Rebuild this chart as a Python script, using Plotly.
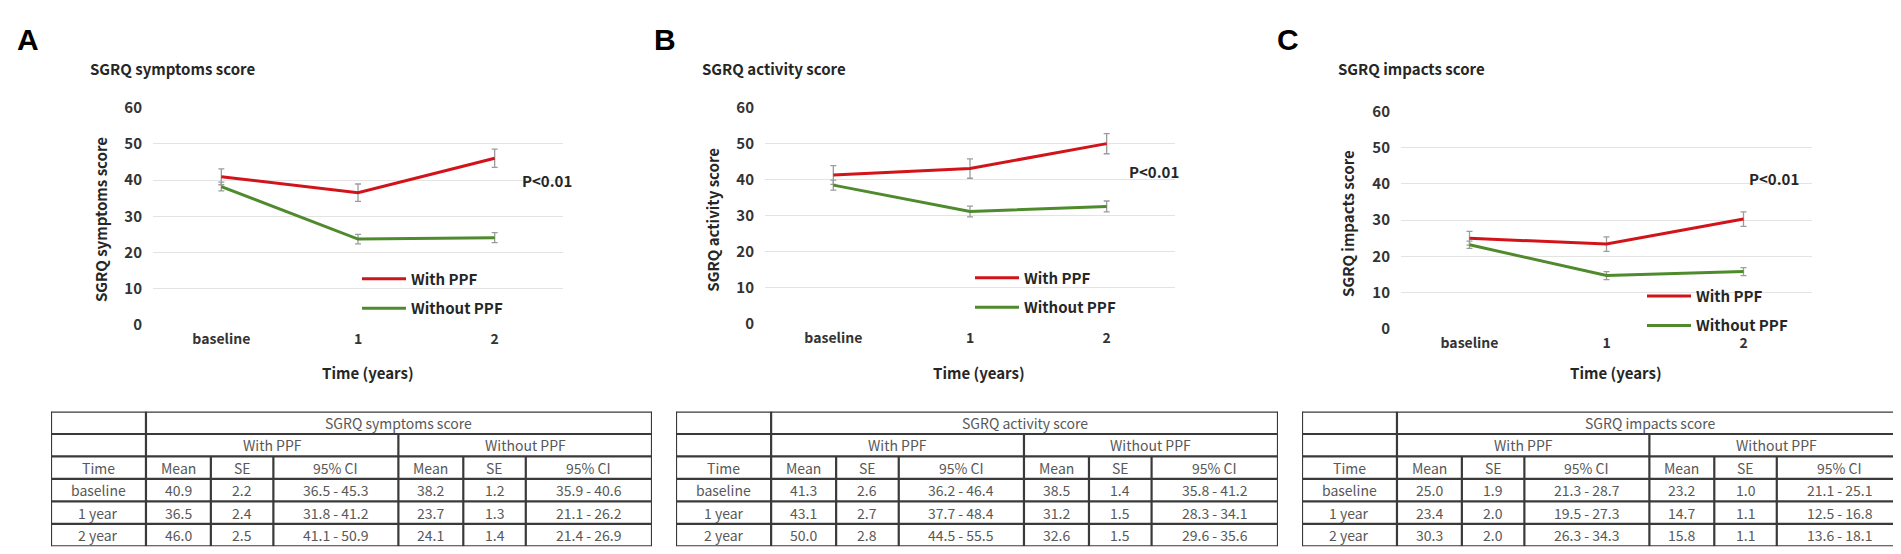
import plotly.graph_objects as go

W, H = 1901, 554
FONT = "Noto Sans CJK JP"
RED = "#D2141A"
GREEN = "#4F8A2D"

# --- data -------------------------------------------------------------
time_points = ["baseline", "1", "2"]
table_times = ["baseline", "1 year", "2 year"]
panel_letters = ["A", "B", "C"]
score_names = ["SGRQ symptoms score", "SGRQ activity score", "SGRQ impacts score"]
group_names = ["With PPF", "Without PPF"]
col_headers = ["Time", "Mean", "SE", "95% CI", "Mean", "SE", "95% CI"]

symptoms_with_mean = [40.9, 36.5, 46.0]
symptoms_with_se = [2.2, 2.4, 2.5]
symptoms_with_ci = ["36.5 - 45.3", "31.8 - 41.2", "41.1 - 50.9"]
symptoms_without_mean = [38.2, 23.7, 24.1]
symptoms_without_se = [1.2, 1.3, 1.4]
symptoms_without_ci = ["35.9 - 40.6", "21.1 - 26.2", "21.4 - 26.9"]

activity_with_mean = [41.3, 43.1, 50.0]
activity_with_se = [2.6, 2.7, 2.8]
activity_with_ci = ["36.2 - 46.4", "37.7 - 48.4", "44.5 - 55.5"]
activity_without_mean = [38.5, 31.2, 32.6]
activity_without_se = [1.4, 1.5, 1.5]
activity_without_ci = ["35.8 - 41.2", "28.3 - 34.1", "29.6 - 35.6"]

impacts_with_mean = [25.0, 23.4, 30.3]
impacts_with_se = [1.9, 2.0, 2.0]
impacts_with_ci = ["21.3 - 28.7", "19.5 - 27.3", "26.3 - 34.3"]
impacts_without_mean = [23.2, 14.7, 15.8]
impacts_without_se = [1.0, 1.1, 1.1]
impacts_without_ci = ["21.1 - 25.1", "12.5 - 16.8", "13.6 - 18.1"]

p_labels = ["P<0.01", "P<0.01", "P<0.01"]

panels = [
    (symptoms_with_mean, symptoms_with_se, symptoms_with_ci,
     symptoms_without_mean, symptoms_without_se, symptoms_without_ci),
    (activity_with_mean, activity_with_se, activity_with_ci,
     activity_without_mean, activity_without_se, activity_without_ci),
    (impacts_with_mean, impacts_with_se, impacts_with_ci,
     impacts_without_mean, impacts_without_se, impacts_without_ci),
]

# --- layout (pixel positions in the 1901x554 page) -----------------------
plot_x = [(145, 555), (757, 1167), (1393, 1804)]
plot_y = [(91, 317), (91, 316), (95, 321)]
table_x = [(43, 644), (668, 1270), (1294, 1895)]
table_y = (407, 547)
letter_x = [7, 644, 1267]
title_x = [80, 692, 1328]
ytitle_x = [92, 705, 1340]
xtitle_x = [360, 971, 1608]
pval_xy = [(539, 167), (1146, 157), (1766, 165)]
legend_xy = [(354, 265), (967, 264), (1639, 283)]
col_edges = [0, 0.158, 0.266, 0.370, 0.578, 0.686, 0.790, 1.0]


def px(x):
    return x / W


def py(y):
    return 1 - y / H


fig = go.Figure()
annotations = []
shapes = []
layout_extra = {}

for i in range(3):
    n = "" if i == 0 else str(i + 1)
    with_mean, with_se, with_ci, wo_mean, wo_se, wo_ci = panels[i]
    leg = "legend" if i == 0 else f"legend{i + 1}"

    for name, mean, se, color in [
        (group_names[0], with_mean, with_se, RED),
        (group_names[1], wo_mean, wo_se, GREEN),
    ]:
        fig.add_trace(
            go.Scatter(
                x=time_points,
                y=mean,
                mode="lines",
                name=name,
                line=dict(color=color, width=3),
                error_y=dict(type="data", array=se, color="#9C9C9C",
                             thickness=1.3, width=3),
                xaxis=f"x{n}",
                yaxis=f"y{n}",
                legend=leg,
                legendgroup=f"{i}-{name}",
                hoverinfo="skip",
            )
        )

    x0, x1 = plot_x[i]
    y0, y1 = plot_y[i]
    layout_extra[f"xaxis{n}"] = dict(
        domain=[px(x0), px(x1)],
        anchor=f"y{n}",
        type="category",
        range=[-0.5, 2.5],
        showgrid=False,
        showline=False,
        zeroline=False,
        tickfont=dict(family=FONT, size=14, color="#333333", weight="bold"),
        ticklabelstandoff=4,
        fixedrange=True,
    )
    layout_extra[f"yaxis{n}"] = dict(
        domain=[py(y1), py(y0)],
        anchor=f"x{n}",
        range=[0, 60],
        dtick=10,
        showgrid=True,
        gridcolor="#E3E3E3",
        gridwidth=1,
        zeroline=False,
        showline=False,
        tickfont=dict(family=FONT, size=15, color="#333333", weight="bold"),
        ticklabelstandoff=10,
        fixedrange=True,
    )

    lx, ly = legend_xy[i]
    layout_extra[leg] = dict(
        x=px(lx - 5),
        y=py(ly - 13),
        xanchor="left",
        yanchor="top",
        bgcolor="rgba(0,0,0,0)",
        borderwidth=0,
        itemwidth=44,
        traceorder="grouped",
        tracegroupgap=7,
        font=dict(family=FONT, size=15, color="#262626", weight="bold"),
    )

    # panel letter, chart title, axis titles, p value
    annotations.append(dict(
        text=panel_letters[i], x=px(letter_x[i]), y=py(20), xref="paper", yref="paper",
        xanchor="left", yanchor="middle", showarrow=False,
        font=dict(family="Liberation Sans", size=30, color="#000000", weight="bold"),
    ))
    annotations.append(dict(
        text=score_names[i], x=px(title_x[i]), y=py(50), xref="paper", yref="paper",
        xanchor="left", yanchor="middle", showarrow=False,
        font=dict(family=FONT, size=15, color="#262626", weight="bold"),
    ))
    annotations.append(dict(
        text=score_names[i], x=px(ytitle_x[i]), y=py((y0 + y1) / 2 + 4), xref="paper",
        yref="paper", xanchor="center", yanchor="middle", textangle=-90, showarrow=False,
        font=dict(family=FONT, size=15, color="#262626", weight="bold"),
    ))
    annotations.append(dict(
        text="Time (years)", x=px(xtitle_x[i]), y=py(366), xref="paper", yref="paper",
        xanchor="center", yanchor="middle", showarrow=False,
        font=dict(family=FONT, size=15, color="#262626", weight="bold"),
    ))
    annotations.append(dict(
        text=p_labels[i].replace("<", "&lt;"), x=px(pval_xy[i][0]), y=py(pval_xy[i][1]),
        xref="paper", yref="paper", xanchor="center", yanchor="middle", showarrow=False,
        font=dict(family=FONT, size=15, color="#262626", weight="bold"),
    ))

    # --- table on its own hidden axes: x in table-width units, y in rows ---
    tn = str(i + 4)
    tx0, tx1 = table_x[i]
    fig.add_trace(go.Scatter(x=[], y=[], xaxis=f"x{tn}", yaxis=f"y{tn}",
                             showlegend=False, hoverinfo="skip"))
    layout_extra[f"xaxis{tn}"] = dict(domain=[px(tx0), px(tx1)], anchor=f"y{tn}",
                                      range=[0, 1], visible=False, fixedrange=True)
    layout_extra[f"yaxis{tn}"] = dict(domain=[py(table_y[1]), py(table_y[0])],
                                      anchor=f"x{tn}", range=[6, 0], visible=False,
                                      fixedrange=True)
    xr, yr = f"x{tn}", f"y{tn}"
    line = dict(color="#3A3A3A", width=2.2)
    for r in range(7):
        shapes.append(dict(type="line", xref=xr, yref=yr, x0=0, x1=1, y0=r, y1=r, line=line))
    for c, e in enumerate(col_edges):
        if c in (0, 1, 7):
            top = 0
        elif c == 4:
            top = 1
        else:
            top = 2
        shapes.append(dict(type="line", xref=xr, yref=yr, x0=e, x1=e, y0=top, y1=6, line=line))

    tfont = dict(family=FONT, size=14, color="#585858")

    def cell(text, xc, row):
        annotations.append(dict(text=text, x=xc, y=row + 0.5, xref=xr, yref=yr,
                                xanchor="center", yanchor="middle", showarrow=False,
                                font=tfont))

    cell(score_names[i], (col_edges[1] + 1) / 2, 0)
    cell(group_names[0], (col_edges[1] + col_edges[4]) / 2, 1)
    cell(group_names[1], (col_edges[4] + 1) / 2, 1)
    for c, head in enumerate(col_headers):
        cell(head, (col_edges[c] + col_edges[c + 1]) / 2, 2)
    for r in range(3):
        row_vals = [table_times[r], f"{with_mean[r]:.1f}", f"{with_se[r]:.1f}", with_ci[r],
                    f"{wo_mean[r]:.1f}", f"{wo_se[r]:.1f}", wo_ci[r]]
        for c, v in enumerate(row_vals):
            cell(v, (col_edges[c] + col_edges[c + 1]) / 2, r + 3)

fig.update_layout(
    width=W,
    height=H,
    margin=dict(l=0, r=0, t=0, b=0),
    paper_bgcolor="white",
    plot_bgcolor="white",
    annotations=annotations,
    shapes=shapes,
    **layout_extra,
)

fig.write_html("out.html")
